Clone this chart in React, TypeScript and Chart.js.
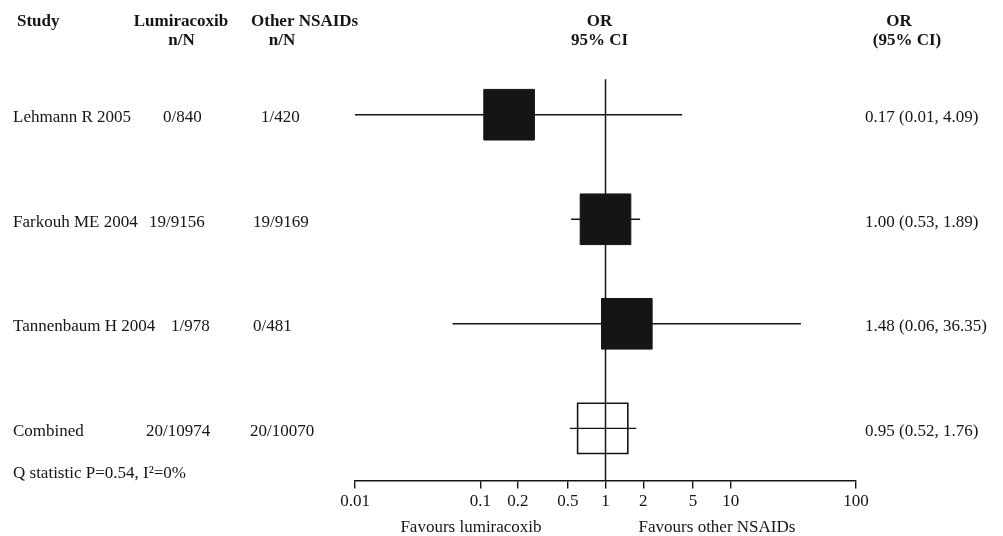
import React, { useEffect, useRef } from "react";
import { Chart, registerables } from "chart.js";

Chart.register(...registerables);

// ---- data ----
const studies = ["Lehmann R 2005", "Farkouh ME 2004", "Tannenbaum H 2004", "Combined"];
const lumiracoxibNN = ["0/840", "19/9156", "1/978", "20/10974"];
const otherNN = ["1/420", "19/9169", "0/481", "20/10070"];
const oddsRatio = [0.17, 1.0, 1.48, 0.95];
const ciLower = [0.01, 0.53, 0.06, 0.52];
const ciUpper = [4.09, 1.89, 36.35, 1.76];
const tickValues = [0.01, 0.1, 0.2, 0.5, 1, 2, 5, 10, 100];
const heterogeneity = "Q statistic P=0.54, I\u00b2=0%";
const favoursLeft = "Favours lumiracoxib";
const favoursRight = "Favours other NSAIDs";

// ---- layout (not data) ----
const W = 1003;
const H = 536;
const FONT = "'Liberation Serif', 'Times New Roman', serif";
const INK = "#151515";
const col1X = [163, 149, 171, 146];
const col2X = [261, 253, 253, 250];

export default function App() {
  const ref = useRef<HTMLCanvasElement | null>(null);

  useEffect(() => {
    const canvas = ref.current;
    if (!canvas) return;
    const n = studies.length;
    const rowY = studies.map((_, i) => i + 1);

    const ciSets = studies.map((_, i) => ({
      type: "line" as const,
      label: "ci" + i,
      data: [
        { x: ciLower[i], y: rowY[i] },
        { x: ciUpper[i], y: rowY[i] },
      ],
      showLine: true,
      borderColor: INK,
      borderWidth: 1.4,
      pointRadius: 0,
      order: 2,
    }));

    const refLine = {
      type: "line" as const,
      label: "ref",
      data: [
        { x: 1, y: 0.66 },
        { x: 1, y: 4.5 },
      ],
      showLine: true,
      borderColor: INK,
      borderWidth: 1.5,
      pointRadius: 0,
      order: 3,
    };

    const filled = {
      type: "scatter" as const,
      label: "studies",
      data: studies.slice(0, n - 1).map((_, i) => ({ x: oddsRatio[i], y: rowY[i] })),
      pointStyle: "rect",
      pointRadius: 35.8,
      backgroundColor: INK,
      borderColor: INK,
      borderWidth: 1,
      order: 0,
    };

    const pooled = {
      type: "scatter" as const,
      label: "combined",
      data: [{ x: oddsRatio[n - 1], y: rowY[n - 1] }],
      pointStyle: "rect",
      pointRadius: 35.5,
      backgroundColor: "rgba(0,0,0,0)",
      borderColor: INK,
      borderWidth: 1.6,
      order: 1,
    };

    const textPlugin = {
      id: "forestText",
      afterDraw(chart: any) {
        const ctx = chart.ctx as CanvasRenderingContext2D;
        const ys = chart.scales.y;
        const xs = chart.scales.x;
        ctx.save();
        ctx.fillStyle = INK;
        ctx.textBaseline = "alphabetic";
        // headers
        ctx.font = `bold 17px ${FONT}`;
        ctx.textAlign = "left";
        ctx.fillText("Study", 17, 26);
        ctx.fillText("Other NSAIDs", 251, 26);
        ctx.textAlign = "center";
        ctx.fillText("Lumiracoxib", 181, 26);
        ctx.fillText("n/N", 181.5, 45);
        ctx.fillText("n/N", 282, 45);
        const mid = xs.getPixelForValue(1);
        ctx.fillText("OR", mid - 6, 26);
        ctx.fillText("95% CI", mid - 6, 45);
        ctx.fillText("OR", 899, 26);
        ctx.fillText("(95% CI)", 907, 45);
        // rows
        ctx.font = `17px ${FONT}`;
        ctx.textAlign = "left";
        studies.forEach((s, i) => {
          const y = ys.getPixelForValue(i + 1) + 7.5;
          ctx.fillText(s, 13, y);
          ctx.fillText(lumiracoxibNN[i], col1X[i], y);
          ctx.fillText(otherNN[i], col2X[i], y);
          const txt = `${oddsRatio[i].toFixed(2)} (${ciLower[i].toFixed(2)}, ${ciUpper[i].toFixed(2)})`;
          ctx.fillText(txt, 865, y);
        });
        ctx.fillText(heterogeneity, 13, 478);
        ctx.textAlign = "center";
        ctx.fillText(favoursLeft, 471, 532);
        ctx.fillText(favoursRight, 717, 532);
        ctx.restore();
      },
    };

    const chart = new Chart(canvas, {
      type: "scatter",
      data: { datasets: [filled as any, pooled as any, ...(ciSets as any), refLine as any] },
      options: {
        animation: false,
        responsive: false,
        maintainAspectRatio: false,
        layout: { padding: { left: 355, right: 147, top: 72.9, bottom: 21 } },
        plugins: { legend: { display: false }, tooltip: { enabled: false } },
        scales: {
          x: {
            type: "logarithmic",
            min: 0.01,
            max: 100,
            afterBuildTicks: (scale: any) => {
              scale.ticks = tickValues.map((v) => ({ value: v }));
            },
            grid: {
              display: true,
              drawOnChartArea: false,
              drawTicks: true,
              tickLength: 8,
              color: INK,
              lineWidth: 1.4,
            },
            border: { display: true, color: INK, width: 1.5 },
            ticks: {
              autoSkip: false,
              maxRotation: 0,
              padding: 3,
              color: INK,
              font: { family: FONT, size: 17 },
              callback: (v: any) => String(v),
            },
          },
          y: {
            type: "linear",
            reverse: true,
            min: 0.6,
            max: 4.5,
            display: false,
          },
        },
      },
      plugins: [textPlugin],
    });
    return () => chart.destroy();
  }, []);

  return (
    <div style={{ position: "absolute", left: 0, top: 0, width: W, height: H, background: "#fff" }}>
      <canvas ref={ref} width={W} height={H} style={{ width: W, height: H, display: "block" }} />
    </div>
  );
}
